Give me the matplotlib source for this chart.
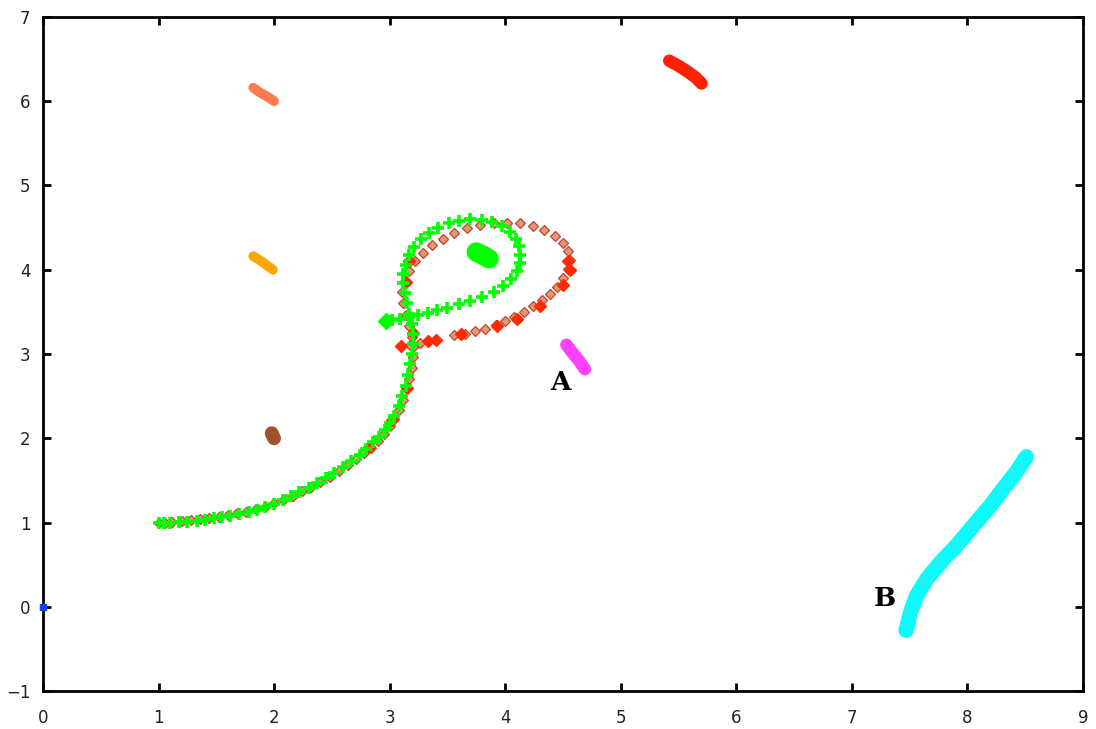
import matplotlib
matplotlib.use("Agg")
import matplotlib.pyplot as plt
import numpy as np

# ---- data ----
green_x = [1.00,1.05,1.10,1.18,1.25,1.33,1.40,1.48,1.55,1.62,1.70,1.78,1.85,1.92,2.00,2.08,2.15,2.22,2.30,2.37,
           2.45,2.52,2.60,2.67,2.74,2.80,2.86,2.91,2.96,3.00,3.04,3.08,3.11,3.14,3.16,3.18,3.19,3.20,3.20,3.19,
           3.17,3.15,3.13,3.12,3.12,3.14,3.17,3.21,3.27,3.34,3.42,3.51,3.60,3.70,3.80,3.89,3.97,4.04,4.09,4.12,
           4.13,4.13,4.10,4.05,3.98,3.90,3.80,3.70,3.60,3.50,3.41,3.33,3.25,3.17,3.09,3.02]
green_y = [1.00,1.00,1.00,1.01,1.01,1.02,1.03,1.05,1.06,1.08,1.10,1.12,1.15,1.18,1.22,1.27,1.31,1.36,1.41,1.47,
           1.53,1.59,1.66,1.73,1.80,1.87,1.95,2.02,2.10,2.18,2.27,2.38,2.50,2.62,2.75,2.88,3.00,3.12,3.24,3.36,
           3.48,3.60,3.72,3.84,3.95,4.06,4.17,4.27,4.36,4.44,4.50,4.55,4.58,4.60,4.59,4.57,4.52,4.45,4.37,4.28,
           4.18,4.08,3.98,3.89,3.81,3.74,3.68,3.63,3.59,3.55,3.52,3.49,3.46,3.44,3.42,3.40]
green_end_x = [2.97]
green_end_y = [3.39]

red_x = [1.00,1.06,1.12,1.20,1.28,1.36,1.44,1.52,1.60,1.68,1.76,1.84,1.92,2.00,2.08,2.16,2.24,2.32,2.40,2.48,
         2.56,2.64,2.71,2.78,2.84,2.90,2.95,3.00,3.04,3.08,3.12,3.15,3.17,3.19,3.20,3.20,3.19,3.17,3.14,3.12,
         3.11,3.13,3.17,3.22,3.29,3.37,3.46,3.56,3.67,3.78,3.90,4.02,4.13,4.24,4.34,4.43,4.50,4.54,4.56,4.54,
         4.50,4.45,4.39,4.32,4.24,4.16,4.08,4.00,3.92,3.83,3.74,3.65,3.56,3.40,3.33,3.26,3.18,3.10]
red_y = [1.00,1.00,1.01,1.02,1.03,1.04,1.05,1.07,1.09,1.11,1.13,1.16,1.19,1.23,1.27,1.32,1.37,1.42,1.48,1.54,
         1.61,1.68,1.75,1.82,1.89,1.97,2.05,2.14,2.23,2.34,2.46,2.58,2.70,2.83,2.96,3.08,3.20,3.33,3.46,3.60,
         3.74,3.87,3.99,4.10,4.20,4.29,4.37,4.44,4.49,4.53,4.55,4.56,4.55,4.52,4.47,4.40,4.32,4.22,4.12,4.01,
         3.90,3.80,3.71,3.64,3.57,3.50,3.44,3.39,3.34,3.30,3.27,3.24,3.22,3.17,3.15,3.13,3.11,3.09]
red_solid_x = [2.82, 3.02, 3.15, 3.20, 3.14, 3.17, 4.54, 4.56, 4.50, 4.30, 4.10, 3.93, 3.62, 3.40, 3.33, 3.10]
red_solid_y = [1.90, 2.22, 2.60, 3.25, 3.85, 4.10, 4.10, 4.00, 3.82, 3.57, 3.42, 3.33, 3.24, 3.17, 3.15, 3.09]

salmon_x = [1.82, 1.87, 1.92, 1.97, 2.00]
salmon_y = [6.16, 6.11, 6.07, 6.03, 6.00]
orange_x = [1.82, 1.87, 1.92, 1.96, 1.99]
orange_y = [4.16, 4.12, 4.07, 4.03, 4.00]
redtop_x = [5.42, 5.50, 5.58, 5.65, 5.70]
redtop_y = [6.48, 6.42, 6.35, 6.28, 6.21]
magenta_x = [4.53, 4.58, 4.64, 4.69]
magenta_y = [3.11, 3.02, 2.92, 2.82]
gblob_x = [3.75, 3.81, 3.86]
gblob_y = [4.21, 4.17, 4.13]
brown_x = [1.98, 1.99, 2.00]
brown_y = [2.06, 2.03, 2.00]
cyan_x = [7.47, 7.51, 7.56, 7.65, 7.77, 7.91, 8.05, 8.20, 8.31, 8.43, 8.51]
cyan_y = [-0.28, -0.06, 0.13, 0.33, 0.53, 0.73, 0.96, 1.20, 1.40, 1.61, 1.78]
blue_x = [0.0]
blue_y = [0.0]

labels = ["A", "B"]
label_x = [4.48, 7.29]
label_y = [2.66, 0.10]

x_ticks = list(range(0, 10))
y_ticks = list(range(-1, 8))

# ---- figure ----
fig = plt.figure(figsize=(10.96, 7.29), dpi=100)
ax = fig.add_axes([0.0392, 0.052, 0.9488, 0.9248])
ax.set_xlim(0, 9)
ax.set_ylim(-1, 7)

# streaks / blobs
def streak(x, y, color, lw, cap='round'):
    ax.plot(x, y, color=color, lw=lw, solid_capstyle=cap, zorder=3)

streak(salmon_x, salmon_y, '#ff7a50', 7)
streak(orange_x, orange_y, '#ffa500', 7)
streak(redtop_x, redtop_y, '#ff2200', 9)
streak(magenta_x, magenta_y, '#ff40ff', 9)
streak(gblob_x, gblob_y, '#00ff00', 14)
streak(brown_x, brown_y, '#a0522d', 10)
streak(cyan_x, cyan_y, '#00ffff', 11)
ax.plot(cyan_x, cyan_y, 's', color='#00ffff', ms=7, mec='#66dddd', mew=0.5, zorder=3)

# red trajectory
ax.plot(red_x, red_y, 'D', ms=5.5, mfc='#e89478', mec='#b84a2c', mew=0.9, ls='none', zorder=4)
ax.plot(red_solid_x, red_solid_y, 'D', ms=6, mfc='#ff2a00', mec='#ff2a00', ls='none', zorder=4)

# green trajectory
ax.plot(green_x, green_y, '+', ms=9, mew=2.6, color='#00ff00', ls='none', zorder=5)
ax.plot(green_end_x, green_end_y, 'D', ms=8, color='#00ff00', ls='none', zorder=5)

# blue point at origin
ax.plot(blue_x, blue_y, 's', ms=4, color='#1040ff', clip_on=False, zorder=6)

for t, xx, yy in zip(labels, label_x, label_y):
    ax.text(xx, yy, t, fontsize=19, fontweight='bold', family='DejaVu Serif',
            ha='center', va='center', color='black', zorder=7)

ax.set_xticks(x_ticks)
ax.set_yticks(y_ticks)
ax.set_xticklabels([str(v) for v in x_ticks])
ax.set_yticklabels([str(v).replace('-', '\u2212') for v in y_ticks])
ax.tick_params(direction='in', length=6, width=2, top=True, right=True,
               labelsize=12, labelcolor='#222222')
ax.tick_params(axis='x', pad=13)
ax.tick_params(axis='y', pad=9)
for s in ax.spines.values():
    s.set_linewidth(2)
    s.set_color('black')

fig.savefig('out.png', dpi=100)
